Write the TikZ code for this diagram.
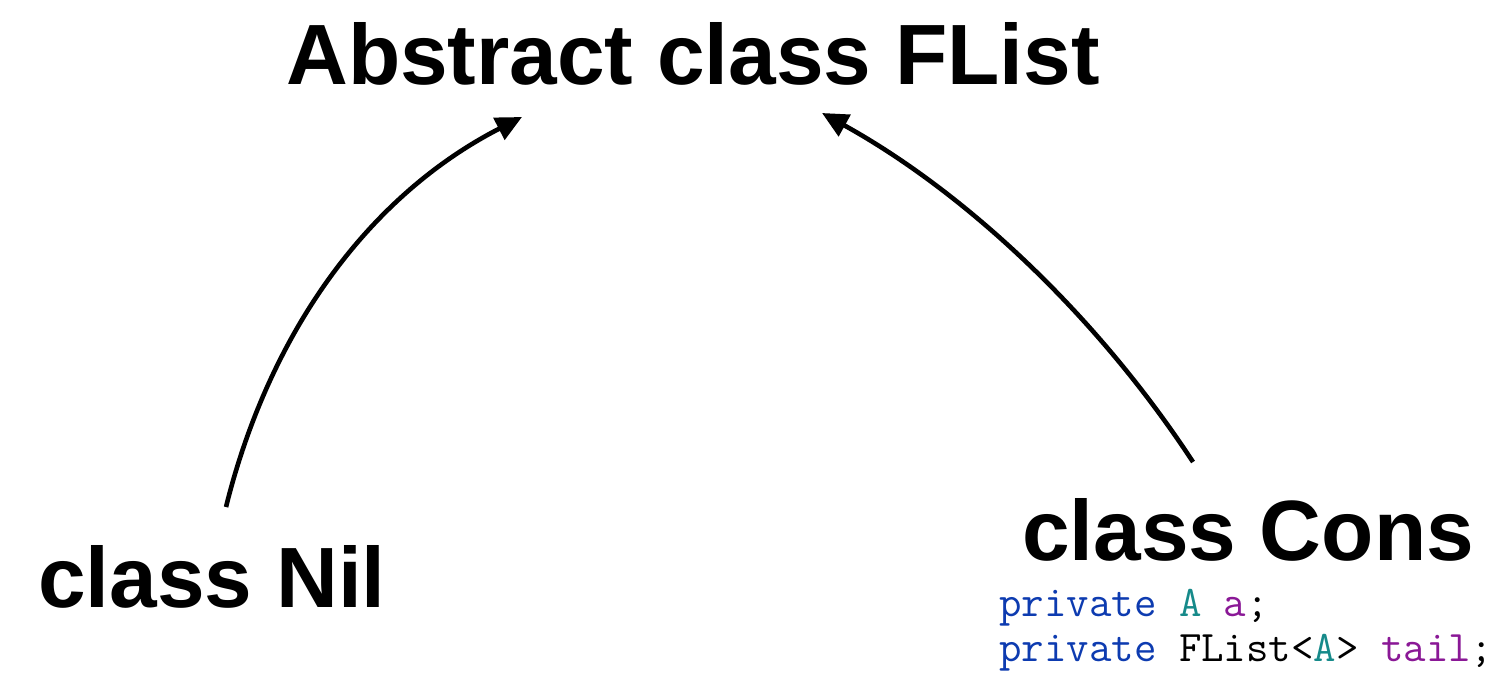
\documentclass[tikz,border=0pt]{standalone}
\usepackage{fontspec}
\setmainfont{Liberation Sans}
\usetikzlibrary{arrows.meta}
\definecolor{kwblue}{HTML}{0D3BB0}
\definecolor{typeteal}{HTML}{168A8A}
\definecolor{fieldpurple}{HTML}{8A1896}
\tikzset{
  heading/.style={font=\fontsize{42.8}{50}\selectfont\bfseries, inner sep=0pt, anchor=base},
  code/.style={font=\fontsize{21.8}{24}\selectfont\ttfamily, inner sep=0pt, anchor=base west},
  inherit/.style={line width=2.3pt, -{Triangle[length=13pt, width=12pt]}}
}
\begin{document}
\begin{tikzpicture}[x=0.5pt, y=-0.5pt]
  \useasboundingbox (0,0) rectangle (1507,678);
  \node[heading] (flist) at (693,85) {Abstract class FList};
  \node[heading] (nil) at (212,607) {class Nil};
  \node[heading] (cons) at (1248,560) {class Cons};
  \node[code] (field1) at (999,616) {\textcolor{kwblue}{private} \textcolor{typeteal}{A} \textcolor{fieldpurple}{a};};
  \node[code] (field2) at (999,661) {\textcolor{kwblue}{private} FList<\textcolor{typeteal}{A}> \textcolor{fieldpurple}{tail};};
  % connector end points
  \coordinate (nilTop) at (226,507);
  \coordinate (nilTip) at (522,117);
  \coordinate (consTop) at (1193,462);
  \coordinate (consTip) at (822,113);
  \draw[inherit] (nilTop) .. controls (270,330) and (370,195) .. (nilTip);
  \draw[inherit] (consTop) .. controls (1100,320) and (970,195) .. (consTip);
\end{tikzpicture}
\end{document}
